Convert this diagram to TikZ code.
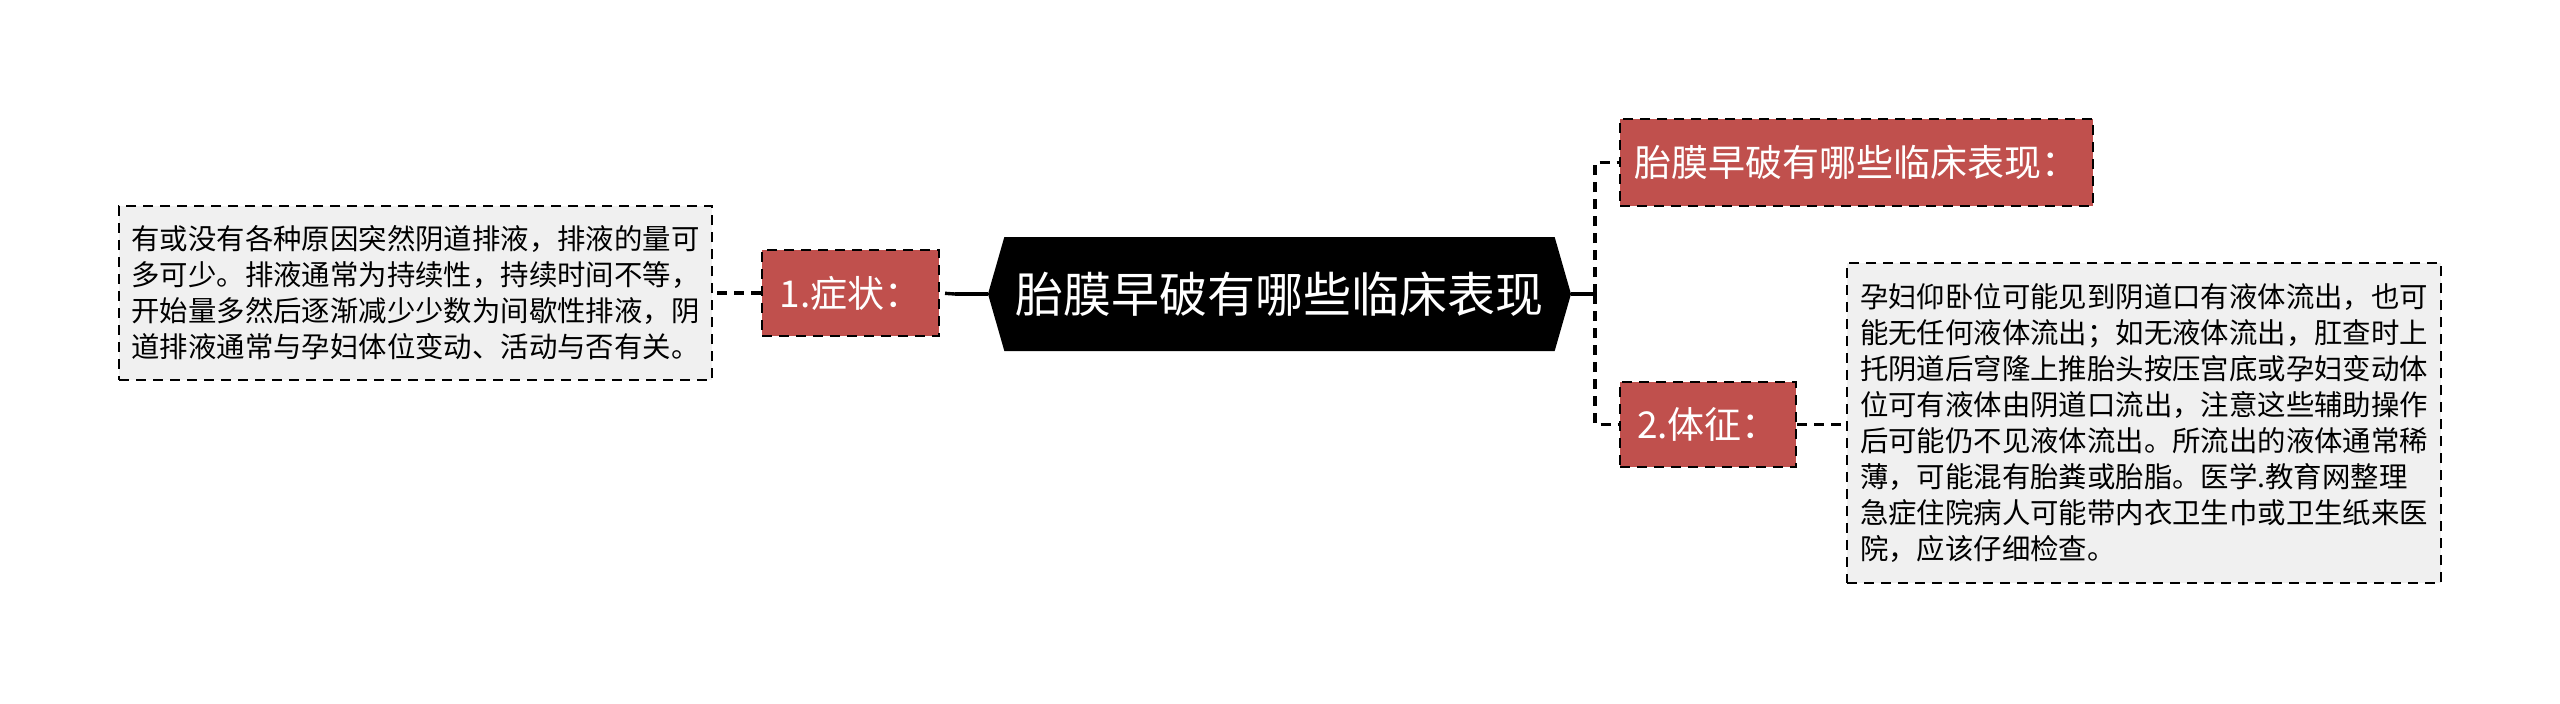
\documentclass[tikz,border=0pt]{standalone}
\usepackage{fontspec}
\setmainfont{Noto Sans CJK SC}
\usetikzlibrary{positioning,shapes.symbols}
\definecolor{boxred}{HTML}{C0504D}
\definecolor{boxgray}{HTML}{F0F0F0}

\begin{document}
\begin{tikzpicture}[x=0.5pt,y=-0.5pt,
  dsh/.style={dash pattern=on 5pt off 3.5pt},
  root/.style={signal,signal to=west and east,signal pointer angle=148,fill=black,
               text=white,font=\fontsize{24}{28}\selectfont,inner sep=0pt,
               minimum width=291.5pt,minimum height=57pt},
  cat/.style={draw,dsh,line width=1.2pt,fill=boxred,text=white,
              font=\fontsize{18.5}{22}\selectfont,inner sep=0pt},
  txt/.style={draw,dsh,line width=1.1pt,fill=boxgray,align=left,
              font=\fontsize{14.2}{18}\selectfont,inner sep=0pt},
  conn/.style={line width=1.7pt,dsh},
  stem/.style={line width=2pt}
]
  \useasboundingbox (0,0) rectangle (2560,703);

  % centre
  \node[root] (root) at (1279.5,294) {胎膜早破有哪些临床表现};

  % left branch
  \node[cat,minimum width=88.5pt,minimum height=43pt] (sym) at (850.5,293) {1.症状：};
  \node[txt,minimum width=296.5pt,minimum height=87pt] (symtxt) at (415.5,293)
       {有或没有各种原因突然阴道排液，排液的量可\\
        多可少。排液通常为持续性，持续时间不等，\\
        开始量多然后逐渐减少少数为间歇性排液，阴\\
        道排液通常与孕妇体位变动、活动与否有关。};

  % right branch
  \node[cat,minimum width=236.5pt,minimum height=43.5pt] (ques) at (1856.5,162.5) {胎膜早破有哪些临床表现：};
  \node[cat,minimum width=88pt,minimum height=42.5pt] (sign) at (1708,424.5) {2.体征：};
  \node[txt,minimum width=297pt,minimum height=160pt] (signtxt) at (2144,423)
       {孕妇仰卧位可能见到阴道口有液体流出，也可\\
        能无任何液体流出；如无液体流出，肛查时上\\
        托阴道后穹隆上推胎头按压宫底或孕妇变动体\\
        位可有液体由阴道口流出，注意这些辅助操作\\
        后可能仍不见液体流出。所流出的液体通常稀\\
        薄，可能混有胎粪或胎脂。医学.教育网整理\\
        急症住院病人可能带内衣卫生巾或卫生纸来医\\
        院，应该仔细检查。};

  % connectors
  \coordinate (lj) at (955,294);
  \coordinate (rj) at (1595,294);
  \draw[stem] (root.west) -- (lj);
  \draw[conn] (lj) -- (sym.east);
  \draw[conn] (sym.west) -- (symtxt.east);
  \draw[stem] (root.east) -- (rj);
  \draw[conn] (rj) |- (ques.west);
  \draw[conn] (rj) |- (sign.west);
  \draw[conn] (sign.east) -- (signtxt.west |- sign.east);
\end{tikzpicture}
\end{document}
